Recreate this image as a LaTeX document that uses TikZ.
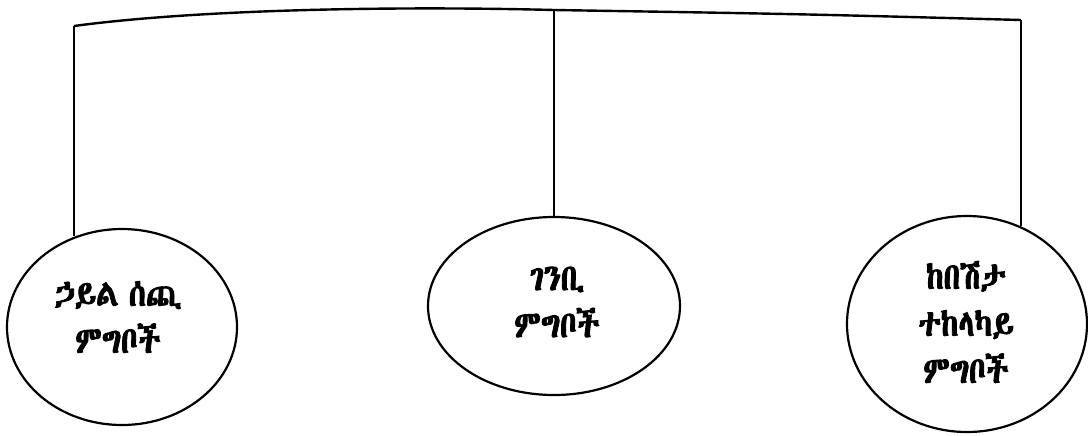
\documentclass[tikz,border=0pt]{standalone}
\usepackage{fontspec}
\IfFontExistsTF{Abyssinica SIL}{\newfontfamily\ethfont[Script=Ethiopic, AutoFakeBold=2.4, FakeStretch=0.84, WordSpace=0.7]{Abyssinica SIL}}{%
  \IfFontExistsTF{Noto Sans Ethiopic}{\newfontfamily\ethfont[Script=Ethiopic, AutoFakeBold=2.4, FakeStretch=0.84, WordSpace=0.7]{Noto Sans Ethiopic}}{%
    \IfFontExistsTF{FreeSans}{\newfontfamily\ethfont{FreeSans}}{%
      \newfontfamily\ethfont{DejaVu Sans}}}}
\usetikzlibrary{shapes.geometric}

\tikzset{
  food/.style={ellipse, draw, line width=1.1pt, inner sep=0pt},
  foodtext/.style={align=center, inner sep=0pt,
    font=\ethfont\bfseries\fontsize{18.5}{23.5}\selectfont},
  bar/.style={line width=1.2pt},
  stem/.style={line width=0.6pt}
}

\begin{document}
\begin{tikzpicture}[x=0.5pt, y=-0.5pt]

        \useasboundingbox (0,0) rectangle (1088,435);

        % Food groups
        \node[food, minimum width=115pt, minimum height=98pt] (energy) at (122,327) {};
        \node[food, minimum width=126pt, minimum height=89pt] (build) at (554,306) {};
        \node[food, minimum width=120pt, minimum height=108pt] (protect) at (967,324) {};

        % Their names
        \node[foodtext] (energytext) at ([shift={(-4,-10)}]energy.center) {ኃይል ሰጪ\\ምግቦች};
        \node[foodtext] (buildtext) at ([shift={(3,-4)}]build.center) {ገንቢ\\ምግቦች};
        \node[foodtext] (protecttext) at ([shift={(-1,-2)}]protect.center) {ከበሽታ\\ተከላካይ\\ምግቦች};

        % Corners of the top bar
        \coordinate (lt) at (74,26);
        \coordinate (mt) at (build.north |- 0,10);
        \coordinate (rt) at (1021,20);

        % Top bar
        \draw[bar] (lt) .. controls (200,9) and (400,6) .. (mt) .. controls (800,14) .. (rt);

        % Stems down to the groups
        \draw[stem] (lt) -- (lt |- energy.117);
        \draw[stem] (mt) -- (build.north);
        \draw[stem] (rt) -- (rt |- protect.62);

    \end{tikzpicture}
\end{document}
